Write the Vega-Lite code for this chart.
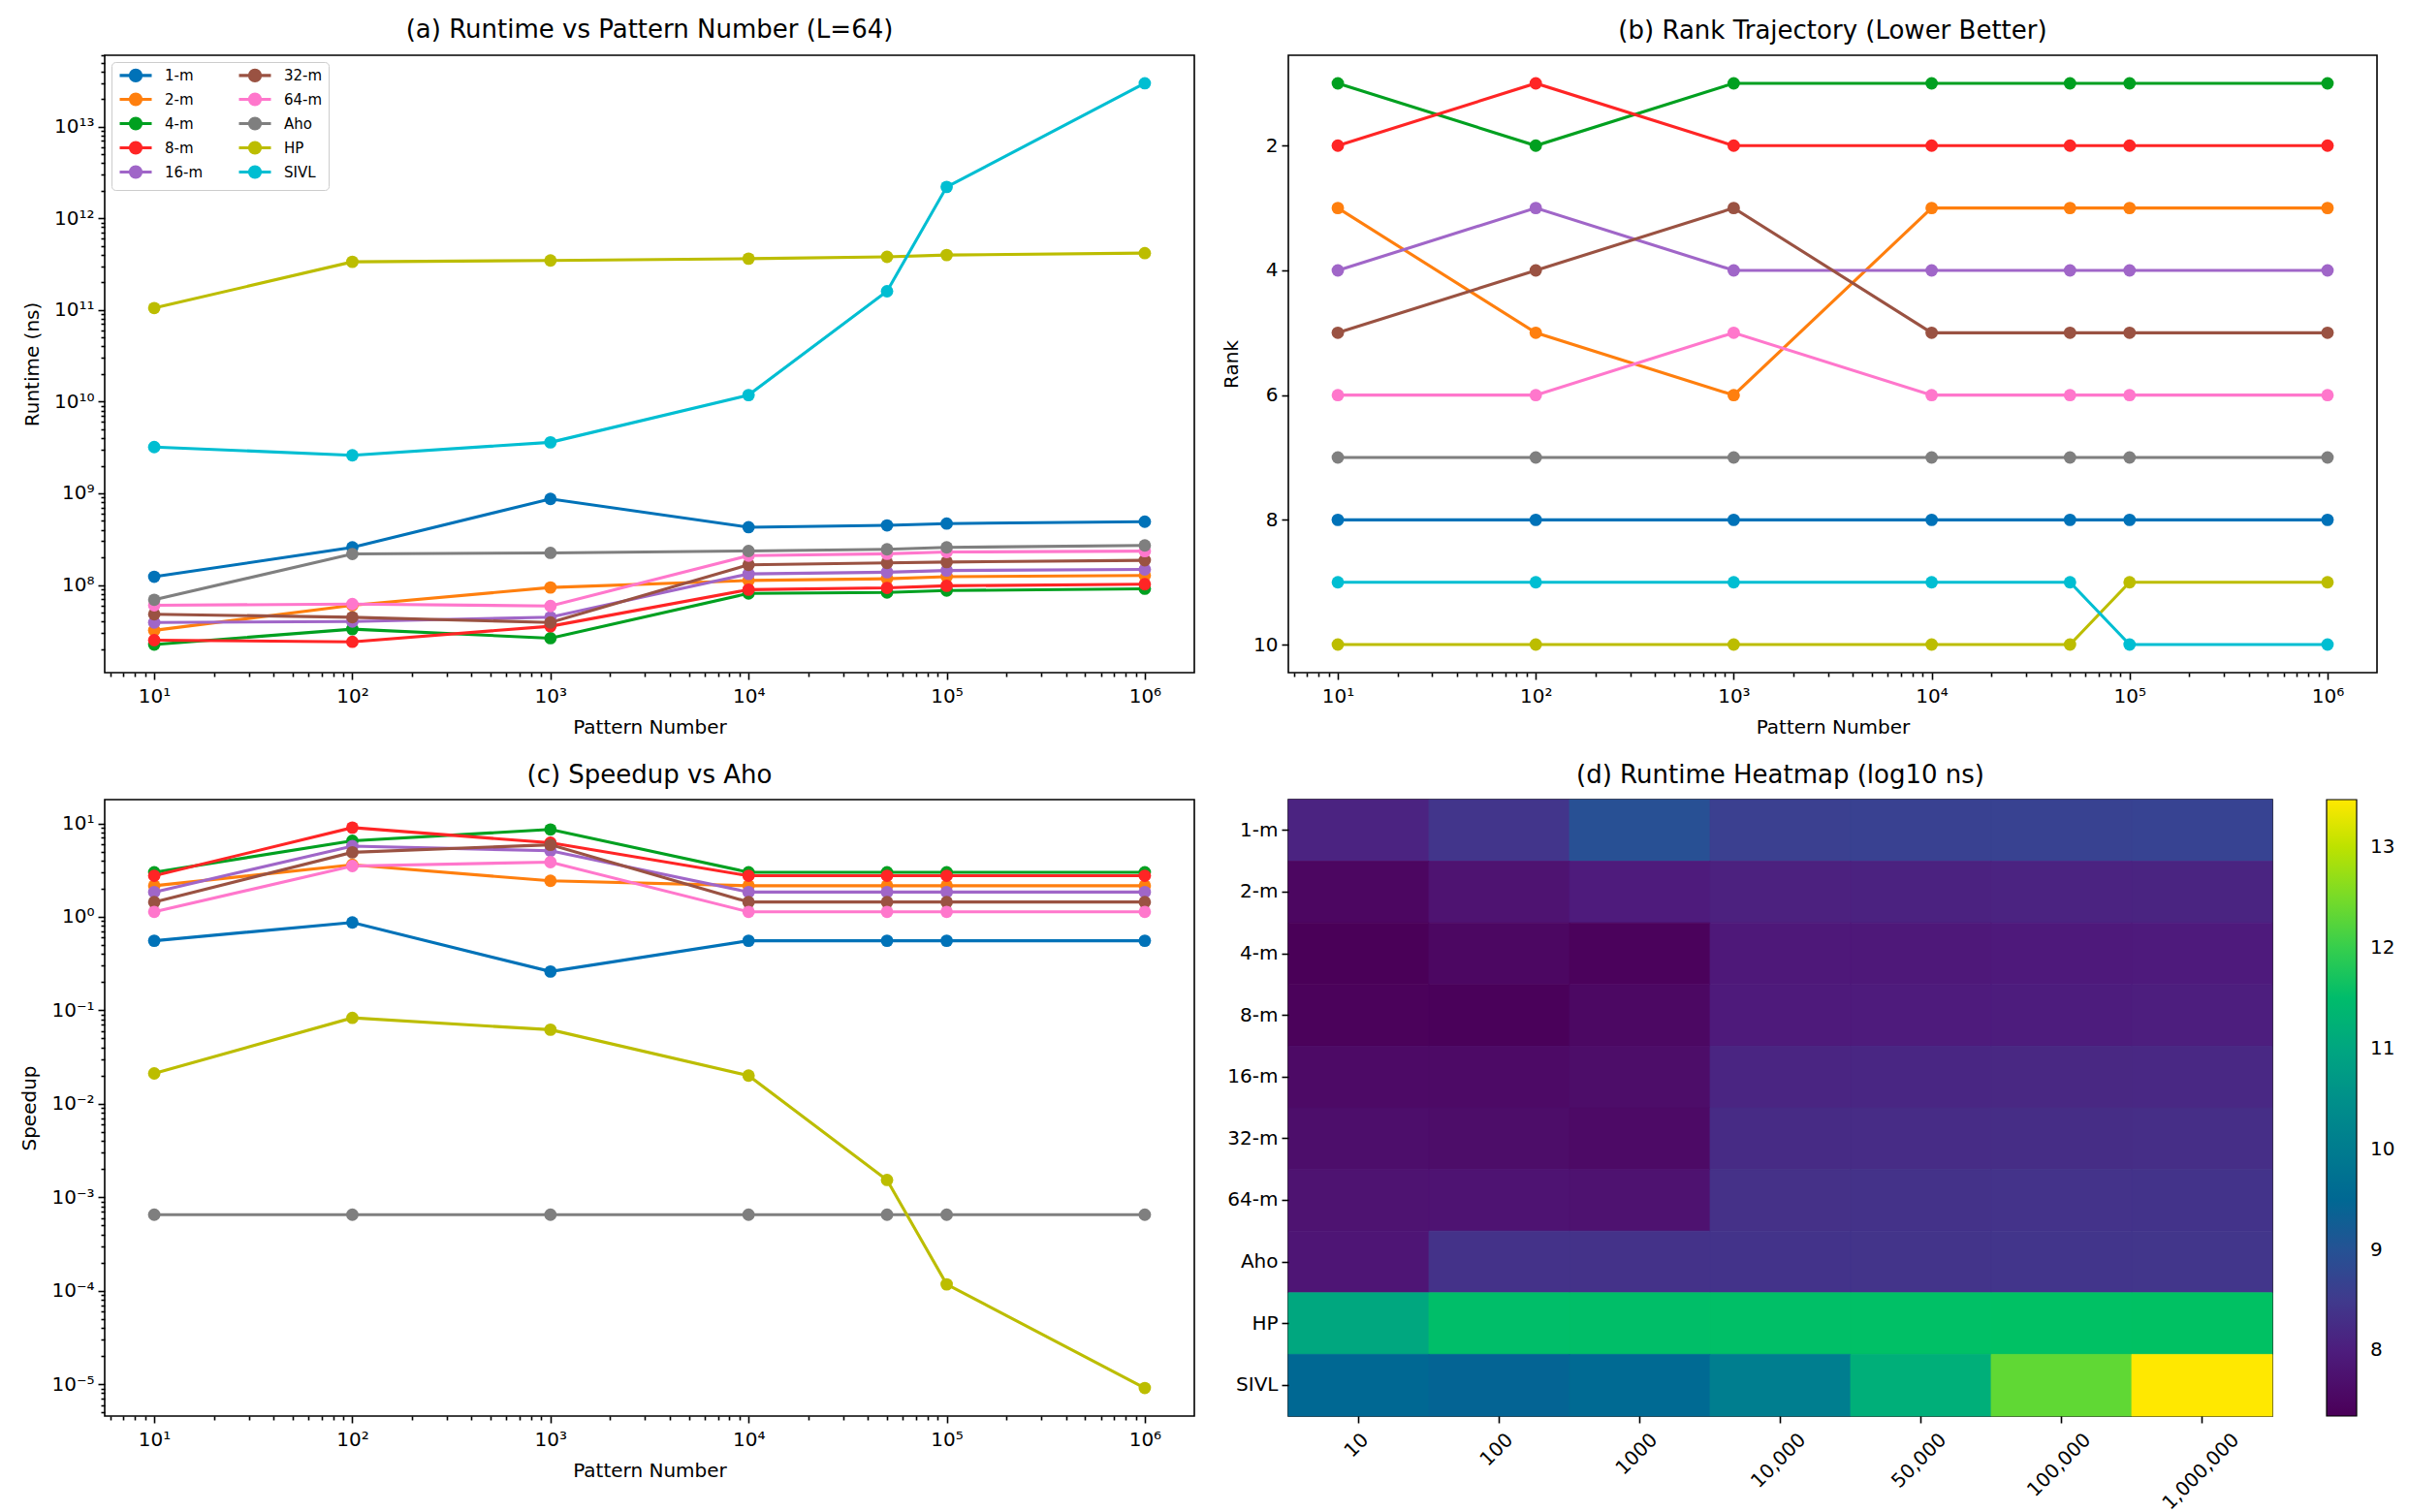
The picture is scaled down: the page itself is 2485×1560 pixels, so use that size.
{
  "$schema": "https://vega.github.io/schema/vega-lite/v6.json",
  "background": "white",
  "autosize": {"type": "pad"},
  "padding": {"left": 20, "top": 17, "right": 5, "bottom": 5},
  "datasets": {
    "runs": [
      {"series": "1-m", "n": 10, "runtime": 1.23e8, "lg": 8.09, "rank": 8, "speedup": 0.555},
      {"series": "1-m", "n": 100, "runtime": 2.57e8, "lg": 8.41, "rank": 8, "speedup": 0.87},
      {"series": "1-m", "n": 1000, "runtime": 8.7e8, "lg": 8.94, "rank": 8, "speedup": 0.26},
      {"series": "1-m", "n": 10000, "runtime": 4.27e8, "lg": 8.63, "rank": 8, "speedup": 0.555},
      {"series": "1-m", "n": 50000, "runtime": 4.47e8, "lg": 8.65, "rank": 8, "speedup": 0.555},
      {"series": "1-m", "n": 100000, "runtime": 4.68e8, "lg": 8.67, "rank": 8, "speedup": 0.555},
      {"series": "1-m", "n": 1000000, "runtime": 4.9e8, "lg": 8.69, "rank": 8, "speedup": 0.555},
      {"series": "2-m", "n": 10, "runtime": 3.2e7, "lg": 7.50, "rank": 3, "speedup": 2.15},
      {"series": "2-m", "n": 100, "runtime": 6.0e7, "lg": 7.78, "rank": 5, "speedup": 3.6},
      {"series": "2-m", "n": 1000, "runtime": 9.4e7, "lg": 7.97, "rank": 6, "speedup": 2.43},
      {"series": "2-m", "n": 10000, "runtime": 1.12e8, "lg": 8.05, "rank": 3, "speedup": 2.15},
      {"series": "2-m", "n": 50000, "runtime": 1.17e8, "lg": 8.07, "rank": 3, "speedup": 2.15},
      {"series": "2-m", "n": 100000, "runtime": 1.23e8, "lg": 8.09, "rank": 3, "speedup": 2.15},
      {"series": "2-m", "n": 1000000, "runtime": 1.27e8, "lg": 8.10, "rank": 3, "speedup": 2.15},
      {"series": "4-m", "n": 10, "runtime": 2.24e7, "lg": 7.35, "rank": 1, "speedup": 3.0},
      {"series": "4-m", "n": 100, "runtime": 3.3e7, "lg": 7.52, "rank": 2, "speedup": 6.5},
      {"series": "4-m", "n": 1000, "runtime": 2.63e7, "lg": 7.42, "rank": 1, "speedup": 8.6},
      {"series": "4-m", "n": 10000, "runtime": 8.1e7, "lg": 7.91, "rank": 1, "speedup": 3.0},
      {"series": "4-m", "n": 50000, "runtime": 8.3e7, "lg": 7.92, "rank": 1, "speedup": 3.0},
      {"series": "4-m", "n": 100000, "runtime": 8.7e7, "lg": 7.94, "rank": 1, "speedup": 3.0},
      {"series": "4-m", "n": 1000000, "runtime": 9.1e7, "lg": 7.96, "rank": 1, "speedup": 3.0},
      {"series": "8-m", "n": 10, "runtime": 2.5e7, "lg": 7.40, "rank": 2, "speedup": 2.75},
      {"series": "8-m", "n": 100, "runtime": 2.4e7, "lg": 7.38, "rank": 1, "speedup": 9.0},
      {"series": "8-m", "n": 1000, "runtime": 3.55e7, "lg": 7.55, "rank": 2, "speedup": 6.2},
      {"series": "8-m", "n": 10000, "runtime": 8.9e7, "lg": 7.95, "rank": 2, "speedup": 2.75},
      {"series": "8-m", "n": 50000, "runtime": 9.3e7, "lg": 7.97, "rank": 2, "speedup": 2.75},
      {"series": "8-m", "n": 100000, "runtime": 9.8e7, "lg": 7.99, "rank": 2, "speedup": 2.75},
      {"series": "8-m", "n": 1000000, "runtime": 1.02e8, "lg": 8.01, "rank": 2, "speedup": 2.75},
      {"series": "16-m", "n": 10, "runtime": 3.9e7, "lg": 7.59, "rank": 4, "speedup": 1.84},
      {"series": "16-m", "n": 100, "runtime": 4.0e7, "lg": 7.60, "rank": 3, "speedup": 5.7},
      {"series": "16-m", "n": 1000, "runtime": 4.45e7, "lg": 7.65, "rank": 4, "speedup": 5.1},
      {"series": "16-m", "n": 10000, "runtime": 1.32e8, "lg": 8.12, "rank": 4, "speedup": 1.84},
      {"series": "16-m", "n": 50000, "runtime": 1.38e8, "lg": 8.14, "rank": 4, "speedup": 1.84},
      {"series": "16-m", "n": 100000, "runtime": 1.44e8, "lg": 8.16, "rank": 4, "speedup": 1.84},
      {"series": "16-m", "n": 1000000, "runtime": 1.48e8, "lg": 8.17, "rank": 4, "speedup": 1.84},
      {"series": "32-m", "n": 10, "runtime": 4.8e7, "lg": 7.68, "rank": 5, "speedup": 1.44},
      {"series": "32-m", "n": 100, "runtime": 4.45e7, "lg": 7.65, "rank": 4, "speedup": 4.9},
      {"series": "32-m", "n": 1000, "runtime": 3.9e7, "lg": 7.59, "rank": 3, "speedup": 5.9},
      {"series": "32-m", "n": 10000, "runtime": 1.66e8, "lg": 8.22, "rank": 5, "speedup": 1.44},
      {"series": "32-m", "n": 50000, "runtime": 1.74e8, "lg": 8.24, "rank": 5, "speedup": 1.44},
      {"series": "32-m", "n": 100000, "runtime": 1.78e8, "lg": 8.25, "rank": 5, "speedup": 1.44},
      {"series": "32-m", "n": 1000000, "runtime": 1.86e8, "lg": 8.27, "rank": 5, "speedup": 1.44},
      {"series": "64-m", "n": 10, "runtime": 6.0e7, "lg": 7.78, "rank": 6, "speedup": 1.13},
      {"series": "64-m", "n": 100, "runtime": 6.2e7, "lg": 7.79, "rank": 6, "speedup": 3.5},
      {"series": "64-m", "n": 1000, "runtime": 5.9e7, "lg": 7.77, "rank": 5, "speedup": 3.85},
      {"series": "64-m", "n": 10000, "runtime": 2.09e8, "lg": 8.32, "rank": 6, "speedup": 1.13},
      {"series": "64-m", "n": 50000, "runtime": 2.19e8, "lg": 8.34, "rank": 6, "speedup": 1.13},
      {"series": "64-m", "n": 100000, "runtime": 2.29e8, "lg": 8.36, "rank": 6, "speedup": 1.13},
      {"series": "64-m", "n": 1000000, "runtime": 2.34e8, "lg": 8.37, "rank": 6, "speedup": 1.13},
      {"series": "Aho", "n": 10, "runtime": 6.9e7, "lg": 7.84, "rank": 7, "speedup": null},
      {"series": "Aho", "n": 100, "runtime": 2.18e8, "lg": 8.34, "rank": 7, "speedup": null},
      {"series": "Aho", "n": 1000, "runtime": 2.24e8, "lg": 8.35, "rank": 7, "speedup": null},
      {"series": "Aho", "n": 10000, "runtime": 2.35e8, "lg": 8.37, "rank": 7, "speedup": null},
      {"series": "Aho", "n": 50000, "runtime": 2.45e8, "lg": 8.39, "rank": 7, "speedup": null},
      {"series": "Aho", "n": 100000, "runtime": 2.57e8, "lg": 8.41, "rank": 7, "speedup": null},
      {"series": "Aho", "n": 1000000, "runtime": 2.7e8, "lg": 8.43, "rank": 7, "speedup": null},
      {"series": "HP", "n": 10, "runtime": 1.05e11, "lg": 11.02, "rank": 10, "speedup": 6.5e-4},
      {"series": "HP", "n": 100, "runtime": 3.35e11, "lg": 11.53, "rank": 10, "speedup": 6.5e-4},
      {"series": "HP", "n": 1000, "runtime": 3.47e11, "lg": 11.54, "rank": 10, "speedup": 6.5e-4},
      {"series": "HP", "n": 10000, "runtime": 3.63e11, "lg": 11.56, "rank": 10, "speedup": 6.5e-4},
      {"series": "HP", "n": 50000, "runtime": 3.8e11, "lg": 11.58, "rank": 10, "speedup": 6.5e-4},
      {"series": "HP", "n": 100000, "runtime": 3.98e11, "lg": 11.60, "rank": 9, "speedup": 6.5e-4},
      {"series": "HP", "n": 1000000, "runtime": 4.17e11, "lg": 11.62, "rank": 9, "speedup": 6.5e-4},
      {"series": "SIVL", "n": 10, "runtime": 3.2e9, "lg": 9.51, "rank": 9, "speedup": 0.0211},
      {"series": "SIVL", "n": 100, "runtime": 2.6e9, "lg": 9.41, "rank": 9, "speedup": 0.083},
      {"series": "SIVL", "n": 1000, "runtime": 3.6e9, "lg": 9.56, "rank": 9, "speedup": 0.062},
      {"series": "SIVL", "n": 10000, "runtime": 1.18e10, "lg": 10.07, "rank": 9, "speedup": 0.020},
      {"series": "SIVL", "n": 50000, "runtime": 1.6e11, "lg": 11.20, "rank": 9, "speedup": 0.00153},
      {"series": "SIVL", "n": 100000, "runtime": 2.2e12, "lg": 12.34, "rank": 10, "speedup": 1.17e-4},
      {"series": "SIVL", "n": 1000000, "runtime": 2.97e13, "lg": 13.47, "rank": 10, "speedup": 9.1e-6}
    ]
  },
  "columns": 2,
  "spacing": {"row": 131, "column": 97},
  "bounds": "flush",
  "concat": [
    {
      "title": "(a) Runtime vs Pattern Number (L=64)",
      "width": 1124,
      "height": 637,
      "data": {"name": "runs"},
      "layer": [
        {
          "mark": {"type": "line", "strokeWidth": 3.1},
          "encoding": {
            "x": {
              "field": "n", "type": "quantitative",
              "scale": {"type": "log", "domain": [5.6234, 1778279.4], "nice": false},
              "axis": {
                "orient": "bottom", "title": "Pattern Number", "labelPadding": 7,
                "values": [10, 100, 1000, 10000, 100000, 1000000],
                "labelExpr": "'10' + ['⁰','¹','²','³','⁴','⁵','⁶'][round(log(datum.value)/LN10)]"
              }
            },
            "y": {
              "field": "runtime", "type": "quantitative",
              "scale": {"type": "log", "domain": [1.1063e7, 6.009e13], "nice": false},
              "axis": {
                "orient": "left", "title": "Runtime (ns)",
                "values": [1e8, 1e9, 1e10, 1e11, 1e12, 1e13],
                "labelExpr": "'10' + ['⁰','¹','²','³','⁴','⁵','⁶','⁷','⁸','⁹','¹⁰','¹¹','¹²','¹³'][round(log(datum.value)/LN10)]"
              }
            },
            "color": {
              "field": "series", "type": "nominal",
              "scale": {
                "domain": ["1-m", "2-m", "4-m", "8-m", "16-m", "32-m", "64-m", "Aho", "HP", "SIVL"],
                "range": ["#0072b8", "#ff7f0e", "#00a020", "#ff2525", "#a066c8", "#9a5242", "#ff77cc", "#7f7f7f", "#bcbd00", "#00bed2"]
              },
              "legend": {
                "orient": "top-left", "offset": 7, "columns": 2, "columnPadding": 30, "rowPadding": 0,
                "title": null, "padding": 6, "fillColor": "white", "strokeColor": "#cccccc", "cornerRadius": 4,
                "symbolType": "M-1,0H5.6M1.93,0A0.37,0.37,0,1,0,2.67,0A0.37,0.37,0,1,0,1.93,0M1.56,0A0.74,0.74,0,1,0,3.04,0A0.74,0.74,0,1,0,1.56,0M1.19,0A1.11,1.11,0,1,0,3.41,0A1.11,1.11,0,1,0,1.19,0",
                "symbolSize": 100, "symbolStrokeWidth": 3.1, "symbolOpacity": 1,
                "labelOffset": 34, "labelFontSize": 15, "labelColor": "black"
              }
            }
          }
        },
        {
          "mark": {"type": "circle", "size": 165, "opacity": 1},
          "encoding": {
            "x": {
              "field": "n", "type": "quantitative",
              "scale": {"type": "log", "domain": [5.6234, 1778279.4], "nice": false},
              "axis": {
                "orient": "bottom", "title": null, "labels": false, "tickSize": 4,
                "values": [6, 7, 8, 9, 20, 30, 40, 50, 60, 70, 80, 90, 200, 300, 400, 500, 600, 700, 800, 900, 2000, 3000, 4000, 5000, 6000, 7000, 8000, 9000, 20000, 30000, 40000, 50000, 60000, 70000, 80000, 90000, 200000, 300000, 400000, 500000, 600000, 700000, 800000, 900000]
              }
            },
            "y": {
              "field": "runtime", "type": "quantitative",
              "scale": {"type": "log", "domain": [1.1063e7, 6.009e13], "nice": false},
              "axis": {
                "orient": "left", "title": null, "labels": false, "tickSize": 4,
                "values": [2e7, 3e7, 4e7, 5e7, 6e7, 7e7, 8e7, 9e7, 2e8, 3e8, 4e8, 5e8, 6e8, 7e8, 8e8, 9e8, 2e9, 3e9, 4e9, 5e9, 6e9, 7e9, 8e9, 9e9, 2e10, 3e10, 4e10, 5e10, 6e10, 7e10, 8e10, 9e10, 2e11, 3e11, 4e11, 5e11, 6e11, 7e11, 8e11, 9e11, 2e12, 3e12, 4e12, 5e12, 6e12, 7e12, 8e12, 9e12, 2e13, 3e13, 4e13, 5e13, 6e13]
              }
            },
            "color": {
              "field": "series", "type": "nominal",
              "scale": {
                "domain": ["1-m", "2-m", "4-m", "8-m", "16-m", "32-m", "64-m", "Aho", "HP", "SIVL"],
                "range": ["#0072b8", "#ff7f0e", "#00a020", "#ff2525", "#a066c8", "#9a5242", "#ff77cc", "#7f7f7f", "#bcbd00", "#00bed2"]
              },
              "legend": null
            }
          }
        }
      ],
      "resolve": {"axis": {"x": "independent", "y": "independent"}}
    },
    {
      "title": "(b) Rank Trajectory (Lower Better)",
      "width": 1123,
      "height": 637,
      "data": {"name": "runs"},
      "layer": [
        {
          "mark": {"type": "line", "strokeWidth": 3.1},
          "encoding": {
            "x": {
              "field": "n", "type": "quantitative",
              "scale": {"type": "log", "domain": [5.6234, 1778279.4], "nice": false},
              "axis": {
                "orient": "bottom", "title": "Pattern Number", "labelPadding": 7,
                "values": [10, 100, 1000, 10000, 100000, 1000000],
                "labelExpr": "'10' + ['⁰','¹','²','³','⁴','⁵','⁶'][round(log(datum.value)/LN10)]"
              }
            },
            "y": {
              "field": "rank", "type": "quantitative",
              "scale": {"domain": [0.55, 10.45], "nice": false, "zero": false, "reverse": true},
              "axis": {"orient": "left", "title": "Rank", "values": [2, 4, 6, 8, 10]}
            },
            "color": {
              "field": "series", "type": "nominal",
              "scale": {
                "domain": ["1-m", "2-m", "4-m", "8-m", "16-m", "32-m", "64-m", "Aho", "HP", "SIVL"],
                "range": ["#0072b8", "#ff7f0e", "#00a020", "#ff2525", "#a066c8", "#9a5242", "#ff77cc", "#7f7f7f", "#bcbd00", "#00bed2"]
              },
              "legend": null
            }
          }
        },
        {
          "mark": {"type": "circle", "size": 165, "opacity": 1},
          "encoding": {
            "x": {
              "field": "n", "type": "quantitative",
              "scale": {"type": "log", "domain": [5.6234, 1778279.4], "nice": false},
              "axis": {
                "orient": "bottom", "title": null, "labels": false, "tickSize": 4,
                "values": [6, 7, 8, 9, 20, 30, 40, 50, 60, 70, 80, 90, 200, 300, 400, 500, 600, 700, 800, 900, 2000, 3000, 4000, 5000, 6000, 7000, 8000, 9000, 20000, 30000, 40000, 50000, 60000, 70000, 80000, 90000, 200000, 300000, 400000, 500000, 600000, 700000, 800000, 900000]
              }
            },
            "y": {
              "field": "rank", "type": "quantitative",
              "scale": {"domain": [0.55, 10.45], "nice": false, "zero": false, "reverse": true},
              "axis": null
            },
            "color": {
              "field": "series", "type": "nominal",
              "scale": {
                "domain": ["1-m", "2-m", "4-m", "8-m", "16-m", "32-m", "64-m", "Aho", "HP", "SIVL"],
                "range": ["#0072b8", "#ff7f0e", "#00a020", "#ff2525", "#a066c8", "#9a5242", "#ff77cc", "#7f7f7f", "#bcbd00", "#00bed2"]
              },
              "legend": null
            }
          }
        }
      ],
      "resolve": {"axis": {"x": "independent", "y": "independent"}}
    },
    {
      "title": "(c) Speedup vs Aho",
      "width": 1124,
      "height": 636,
      "data": {"name": "runs"},
      "transform": [{"filter": "datum.series != 'Aho'"}],
      "layer": [
        {
          "mark": {"type": "line", "strokeWidth": 3.1},
          "encoding": {
            "x": {
              "field": "n", "type": "quantitative",
              "scale": {"type": "log", "domain": [5.6234, 1778279.4], "nice": false},
              "axis": {
                "orient": "bottom", "title": "Pattern Number", "labelPadding": 7,
                "values": [10, 100, 1000, 10000, 100000, 1000000],
                "labelExpr": "'10' + ['⁰','¹','²','³','⁴','⁵','⁶'][round(log(datum.value)/LN10)]"
              }
            },
            "y": {
              "field": "speedup", "type": "quantitative",
              "scale": {"type": "log", "domain": [4.562e-6, 17.95], "nice": false},
              "axis": {
                "orient": "left", "title": "Speedup",
                "values": [1e-5, 1e-4, 1e-3, 1e-2, 1e-1, 1, 10],
                "labelExpr": "'10' + ['⁻⁵','⁻⁴','⁻³','⁻²','⁻¹','⁰','¹'][round(log(datum.value)/LN10) + 5]"
              }
            },
            "color": {
              "field": "series", "type": "nominal",
              "scale": {
                "domain": ["1-m", "2-m", "4-m", "8-m", "16-m", "32-m", "64-m", "HP", "SIVL"],
                "range": ["#0072b8", "#ff7f0e", "#00a020", "#ff2525", "#a066c8", "#9a5242", "#ff77cc", "#7f7f7f", "#bcbd00"]
              },
              "legend": null
            }
          }
        },
        {
          "mark": {"type": "circle", "size": 165, "opacity": 1},
          "encoding": {
            "x": {
              "field": "n", "type": "quantitative",
              "scale": {"type": "log", "domain": [5.6234, 1778279.4], "nice": false},
              "axis": {
                "orient": "bottom", "title": null, "labels": false, "tickSize": 4,
                "values": [6, 7, 8, 9, 20, 30, 40, 50, 60, 70, 80, 90, 200, 300, 400, 500, 600, 700, 800, 900, 2000, 3000, 4000, 5000, 6000, 7000, 8000, 9000, 20000, 30000, 40000, 50000, 60000, 70000, 80000, 90000, 200000, 300000, 400000, 500000, 600000, 700000, 800000, 900000]
              }
            },
            "y": {
              "field": "speedup", "type": "quantitative",
              "scale": {"type": "log", "domain": [4.562e-6, 17.95], "nice": false},
              "axis": {
                "orient": "left", "title": null, "labels": false, "tickSize": 4,
                "values": [5e-6, 6e-6, 7e-6, 8e-6, 9e-6, 2e-5, 3e-5, 4e-5, 5e-5, 6e-5, 7e-5, 8e-5, 9e-5, 2e-4, 3e-4, 4e-4, 5e-4, 6e-4, 7e-4, 8e-4, 9e-4, 0.002, 0.003, 0.004, 0.005, 0.006, 0.007, 0.008, 0.009, 0.02, 0.03, 0.04, 0.05, 0.06, 0.07, 0.08, 0.09, 0.2, 0.3, 0.4, 0.5, 0.6, 0.7, 0.8, 0.9, 2, 3, 4, 5, 6, 7, 8, 9]
              }
            },
            "color": {
              "field": "series", "type": "nominal",
              "scale": {
                "domain": ["1-m", "2-m", "4-m", "8-m", "16-m", "32-m", "64-m", "HP", "SIVL"],
                "range": ["#0072b8", "#ff7f0e", "#00a020", "#ff2525", "#a066c8", "#9a5242", "#ff77cc", "#7f7f7f", "#bcbd00"]
              },
              "legend": null
            }
          }
        }
      ],
      "resolve": {"axis": {"x": "independent", "y": "independent"}}
    },
    {
      "title": "(d) Runtime Heatmap (log10 ns)",
      "width": 1015,
      "height": 636,
      "data": {"name": "runs"},
      "mark": {"type": "rect", "strokeWidth": 0.8},
      "encoding": {
        "x": {
          "field": "n", "type": "ordinal",
          "scale": {"paddingInner": 0, "paddingOuter": 0},
          "axis": {
            "title": null, "labelAngle": -45, "labelAlign": "right", "labelBaseline": "top", "bandPosition": 0.5,
            "labelPadding": 7,
            "labelOffset": {"expr": "length(datum.value == 1000 ? '1000' : format(datum.value, ',')) * 4 - 8"},
            "labelExpr": "datum.value == 1000 ? '1000' : format(datum.value, ',')"
          }
        },
        "y": {
          "field": "series", "type": "ordinal",
          "sort": ["1-m", "2-m", "4-m", "8-m", "16-m", "32-m", "64-m", "Aho", "HP", "SIVL"],
          "scale": {"paddingInner": 0, "paddingOuter": 0},
          "axis": {"title": null, "bandPosition": 0.5}
        },
        "color": {
          "field": "lg", "type": "quantitative",
          "scale": {
            "domain": [7.35, 13.47], "nice": false, "zero": false,
            "range": ["#4a0058", "#4e1a7c", "#3e3d8f", "#1f5a94", "#00738f", "#008c8a", "#00a77f", "#00c262", "#4fd63a", "#a8e000", "#ffe800"]
          },
          "legend": {
            "orient": "right", "offset": 56, "title": null, "direction": "vertical", "format": "d",
            "gradientLength": 636, "gradientThickness": 31, "gradientStrokeColor": "black", "gradientStrokeWidth": 1.2,
            "values": [8, 9, 10, 11, 12, 13], "labelFontSize": 20, "labelOffset": 14, "labelColor": "black", "padding": 0
          }
        },
        "stroke": {
          "field": "lg", "type": "quantitative",
          "scale": {
            "domain": [7.35, 13.47], "nice": false, "zero": false,
            "range": ["#4a0058", "#4e1a7c", "#3e3d8f", "#1f5a94", "#00738f", "#008c8a", "#00a77f", "#00c262", "#4fd63a", "#a8e000", "#ffe800"]
          },
          "legend": null
        }
      }
    }
  ],
  "resolve": {"scale": {"color": "independent"}, "legend": {"color": "independent"}},
  "config": {
    "font": "DejaVu Sans",
    "view": {"stroke": "black", "strokeWidth": 1.6},
    "title": {"fontSize": 26, "fontWeight": "normal", "color": "black", "offset": 12, "font": "DejaVu Sans"},
    "axis": {
      "domain": false, "grid": false, "tickColor": "black", "tickWidth": 1.6, "tickSize": 7,
      "labelColor": "black", "labelFontSize": 20, "labelFont": "DejaVu Sans", "labelPadding": 4,
      "labelFlush": false, "labelOverlap": false, "labelBound": false,
      "titleFontSize": 20, "titleFontWeight": "normal", "titleColor": "black", "titleFont": "DejaVu Sans", "titlePadding": 12
    },
    "legend": {"labelFont": "DejaVu Sans"}
  }
}
